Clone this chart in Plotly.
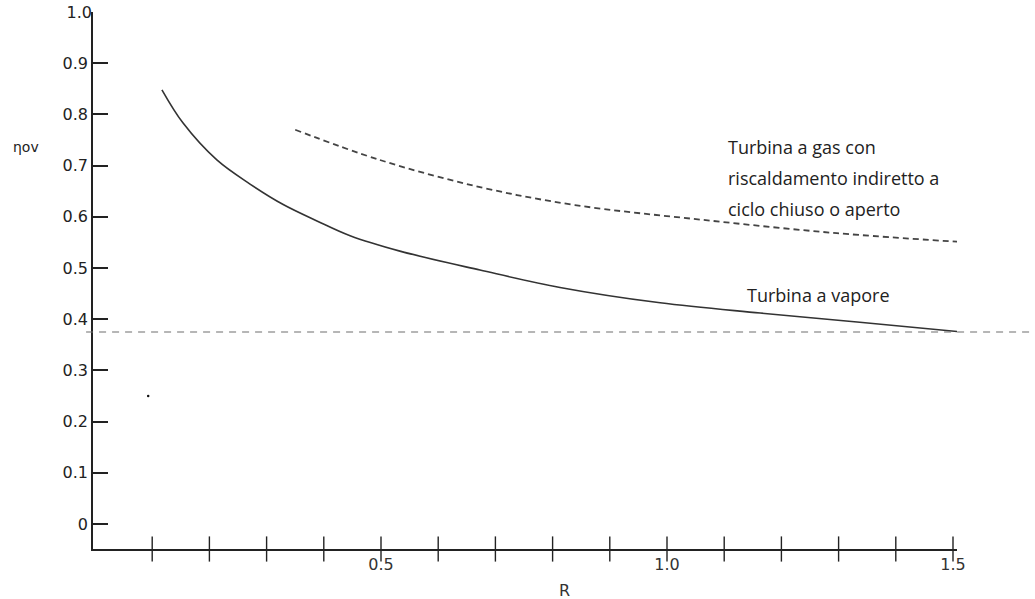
import plotly.graph_objects as go

# Steam turbine efficiency curve (R, eta_ov)
steam_R = [0.117, 0.154, 0.213, 0.271, 0.329, 0.388, 0.446, 0.533, 0.673, 0.813,
           0.988, 1.163, 1.337, 1.516]
steam_eta = [0.848, 0.783, 0.711, 0.664, 0.624, 0.592, 0.563, 0.533, 0.496, 0.462,
             0.432, 0.412, 0.394, 0.375]

# Closed/open cycle gas turbine with indirect heating
gas_R = [0.350, 0.498, 0.673, 0.839, 1.063, 1.297, 1.512]
gas_eta = [0.770, 0.711, 0.658, 0.623, 0.594, 0.568, 0.551]

# Horizontal reference level
ref_eta = 0.375

# Isolated point
dot_R = [0.093]
dot_eta = [0.25]

# Axis ticks
x_minor_ticks = [0.1, 0.2, 0.3, 0.4, 0.5, 0.6, 0.7, 0.8, 0.9, 1.0, 1.1, 1.2, 1.3, 1.4, 1.5]
x_tick_vals = [0.5, 1.0, 1.5]
x_tick_text = ["0.5", "1.0", "1.5"]
y_tick_vals = [0, 0.1, 0.2, 0.3, 0.4, 0.5, 0.6, 0.7, 0.8, 0.9]
y_tick_text = ["0", "0.1", "0.2", "0.3", "0.4", "0.5", "0.6", "0.7", "0.8", "0.9"]
y_top_tick = [1.0]
y_top_text = ["1.0"]

gas_label_lines = ["Turbina a gas con", "riscaldamento indiretto a", "ciclo chiuso o aperto"]
steam_label = "Turbina a vapore"

X_RANGE = [-0.0035, 1.507]
Y_RANGE = [-0.0488, 1.0]

AXIS_COLOR = "#222222"
TICK_FONT = dict(family="DejaVu Sans", size=16, color="#222222")
LABEL_FONT = dict(family="Open Sans", size=18, color="#222222")

fig = go.Figure()

fig.add_trace(go.Scatter(
    x=steam_R, y=steam_eta, mode="lines", line_shape="spline",
    line=dict(color="#333333", width=1.6), hoverinfo="skip", showlegend=False))

fig.add_trace(go.Scatter(
    x=gas_R, y=gas_eta, mode="lines", line_shape="spline",
    line=dict(color="#444444", width=1.8, dash="6px,4px"), hoverinfo="skip", showlegend=False))

# Crossing tick marks along the R axis
fig.add_trace(go.Scatter(
    x=x_minor_ticks, y=[Y_RANGE[0]] * len(x_minor_ticks), mode="markers",
    marker=dict(symbol="line-ns", size=18, line=dict(color=AXIS_COLOR, width=1.4)),
    cliponaxis=False, hoverinfo="skip", showlegend=False))

fig.add_trace(go.Scatter(
    x=dot_R, y=dot_eta, mode="markers", yaxis="y2",
    marker=dict(color="#111111", size=2.5), hoverinfo="skip", showlegend=False))

fig.add_shape(type="line", xref="paper", yref="y",
              x0=-0.008, x1=1.1, y0=ref_eta, y1=ref_eta,
              line=dict(color="#6e6e6e", width=1.2, dash="7px,6px"))

for i, line in enumerate(gas_label_lines):
    fig.add_annotation(x=1.103, y=0.736, xref="x", yref="y", text=line,
                       showarrow=False, xanchor="left", yanchor="middle",
                       yshift=-31 * i, font=LABEL_FONT)

fig.add_annotation(x=1.136, y=0.447, xref="x", yref="y", text=steam_label,
                   showarrow=False, xanchor="left", yanchor="middle", font=LABEL_FONT)

fig.add_annotation(x=-0.0775, y=0.736, xref="paper", yref="y", text="ηov",
                   showarrow=False, xanchor="center", yanchor="middle",
                   font=dict(family="DejaVu Sans", size=14, color="#222222"))

fig.add_annotation(x=0.82, y=-0.077, xref="x", yref="paper", text="R",
                   showarrow=False, xanchor="center", yanchor="middle",
                   font=dict(family="DejaVu Sans", size=16, color="#333333"))

fig.update_layout(
    width=1035, height=599,
    margin=dict(l=93, r=78, t=12, b=50, autoexpand=False),
    paper_bgcolor="white", plot_bgcolor="white",
    showlegend=False,
    xaxis=dict(range=X_RANGE, showgrid=False, zeroline=False, automargin=False,
               showline=True, linecolor=AXIS_COLOR, linewidth=1.5,
               ticks="", tickvals=x_tick_vals, ticktext=x_tick_text,
               ticklabelstandoff=0,
               tickfont=dict(family="DejaVu Sans", size=16, color="#333333")),
    yaxis=dict(range=Y_RANGE, showgrid=False, zeroline=False, automargin=False,
               showline=True, linecolor=AXIS_COLOR, linewidth=1.5,
               ticks="inside", ticklen=15, tickwidth=1.5, tickcolor=AXIS_COLOR,
               tickvals=y_tick_vals, ticktext=y_tick_text, tickfont=TICK_FONT),
    yaxis2=dict(overlaying="y", matches="y", side="left", anchor="x", automargin=False,
                showgrid=False, zeroline=False, showline=False, ticks="",
                tickvals=y_top_tick, ticktext=y_top_text, tickfont=TICK_FONT),
)

fig.write_html("out.html")
